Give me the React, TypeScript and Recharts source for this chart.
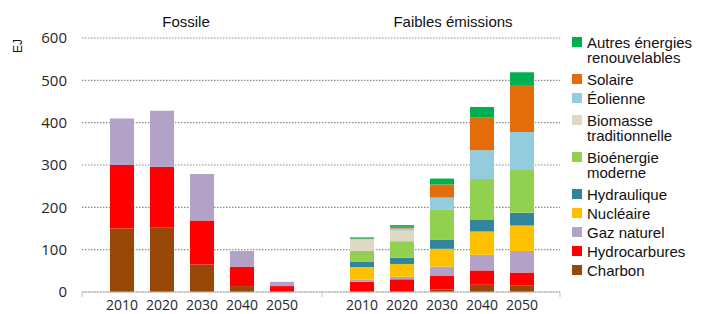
import { BarChart, Bar, XAxis, YAxis, CartesianGrid } from "recharts";

const years = ["2010", "2020", "2030", "2040", "2050"];

// Fossile scenario (EJ)
const fossCharbon = [150, 152, 65, 14, 0];
const fossHydrocarbures = [150, 144, 104, 46, 14];
const fossGaz = [110, 132, 110, 37, 10];

// Faibles émissions scenario (EJ)
const lowCharbon = [0, 0, 6, 17, 16];
const lowHydrocarbures = [24, 30, 33, 34, 30];
const lowGaz = [5, 6, 21, 37, 51];
const lowNucleaire = [30, 30, 42, 55, 60];
const lowHydraulique = [13, 15, 21, 27, 30];
const lowBioenergie = [25, 39, 71, 97, 101];
const lowBiomasse = [27, 25, 0, 0, 0];
const lowEolienne = [1, 5, 29, 68, 90];
const lowSolaire = [1, 4, 31, 78, 109];
const lowAutres = [3, 4, 14, 24, 32];

const yTicks = [0, 100, 200, 300, 400, 500, 600];

// stacking order, bottom to top
const SERIES = [
  { key: "charbon", name: "Charbon", color: "#974706" },
  { key: "hydrocarbures", name: "Hydrocarbures", color: "#FF0000" },
  { key: "gaz", name: "Gaz naturel", color: "#B3A2C7" },
  { key: "nucleaire", name: "Nucléaire", color: "#FFC000" },
  { key: "hydraulique", name: "Hydraulique", color: "#31859C" },
  { key: "bioenergie", name: "Bioénergie\nmoderne", color: "#92D050" },
  { key: "biomasse", name: "Biomasse\ntraditionnelle", color: "#DDD9C4" },
  { key: "eolienne", name: "Éolienne", color: "#93CDDD" },
  { key: "solaire", name: "Solaire", color: "#E46C0A" },
  { key: "autres", name: "Autres énergies\nrenouvelables", color: "#00B050" },
];

const data = [
  ...years.map((y, i) => ({
    id: "F" + y,
    label: y,
    charbon: fossCharbon[i],
    hydrocarbures: fossHydrocarbures[i],
    gaz: fossGaz[i],
  })),
  { id: "gap", label: "" },
  ...years.map((y, i) => ({
    id: "L" + y,
    label: y,
    charbon: lowCharbon[i],
    hydrocarbures: lowHydrocarbures[i],
    gaz: lowGaz[i],
    nucleaire: lowNucleaire[i],
    hydraulique: lowHydraulique[i],
    bioenergie: lowBioenergie[i],
    biomasse: lowBiomasse[i],
    eolienne: lowEolienne[i],
    solaire: lowSolaire[i],
    autres: lowAutres[i],
  })),
];

const TICK_FONT = "'Open Sans', sans-serif";
const TEXT_FONT = "'Liberation Sans', Arial, sans-serif";

function YearTick(props: any) {
  const { x, y, payload, index } = props;
  const row = data.find((d) => d.id === payload.value);
  const axisY = y - 8;
  if (!row || row.label === "") {
    return <line x1={x} x2={x} y1={axisY} y2={axisY + 5} stroke="#BFBFBF" />;
  }
  return (
    <g>
      {index === 0 && <line x1={x - 40} x2={x - 40} y1={axisY} y2={axisY + 5} stroke="#BFBFBF" />}
      {index === data.length - 1 && (
        <line x1={x + 38} x2={x + 38} y1={axisY} y2={axisY + 5} stroke="#BFBFBF" />
      )}
      <text x={x} y={y} dy="0.71em" textAnchor="middle" fontSize={14} fontFamily={TICK_FONT} fill="#262626">
        {row.label}
      </text>
    </g>
  );
}

function Legend() {
  const items = [...SERIES].reverse();
  return (
    <div style={{ position: "absolute", left: 572, top: 30, fontFamily: TEXT_FONT, fontSize: 15, color: "#111" }}>
      {items.map((s) => {
        const multi = s.name.includes("\n");
        return (
          <div
            key={s.key}
            style={{
              display: "flex",
              alignItems: "flex-start",
              padding: "2px 0",
              margin: multi ? "3px 0" : 0,
              lineHeight: "15px",
            }}
          >
            <span style={{ width: 10, height: 10, background: s.color, marginTop: 2, marginRight: 5, flex: "none" }} />
            <span style={{ whiteSpace: "pre-line" }}>{s.name}</span>
          </div>
        );
      })}
    </div>
  );
}

export default function App() {
  return (
    <div style={{ position: "absolute", left: 0, top: 0, width: 709, height: 314, background: "#fff" }}>
      <BarChart width={709} height={314} data={data} margin={{ top: 38, right: 149, bottom: 0, left: 0 }}>
        <CartesianGrid vertical={false} stroke="#8c8c8c" strokeDasharray="1.5 1.5" strokeWidth={1.2} />
        <XAxis
          dataKey="id"
          interval={0}
          height={22}
          tickSize={0}
          tickMargin={8}
          padding={{ left: 20, right: 18 }}
          axisLine={{ stroke: "#BFBFBF" }}
          tick={<YearTick />}
        />
        <YAxis
          width={82}
          domain={[0, 600]}
          ticks={yTicks}
          tickSize={0}
          tickMargin={15}
          axisLine={false}
          tick={{ fontSize: 15, fontFamily: TICK_FONT, fill: "#262626" }}
        />
        {SERIES.map((s) => (
          <Bar key={s.key} dataKey={s.key} name={s.name} stackId="a" fill={s.color} barSize={24} isAnimationActive={false} />
        ))}
      </BarChart>
      <div style={{ position: "absolute", left: 186, top: 21, transform: "translate(-50%, -50%)", fontFamily: TEXT_FONT, fontSize: 15, color: "#111", whiteSpace: "nowrap" }}>
        Fossile
      </div>
      <div style={{ position: "absolute", left: 453, top: 21, transform: "translate(-50%, -50%)", fontFamily: TEXT_FONT, fontSize: 15, color: "#111", whiteSpace: "nowrap" }}>
        Faibles émissions
      </div>
      <div style={{ position: "absolute", left: 18, top: 46, transform: "translate(-50%, -50%) rotate(-90deg)", fontFamily: TEXT_FONT, fontSize: 12, color: "#111" }}>
        EJ
      </div>
      <Legend />
    </div>
  );
}
